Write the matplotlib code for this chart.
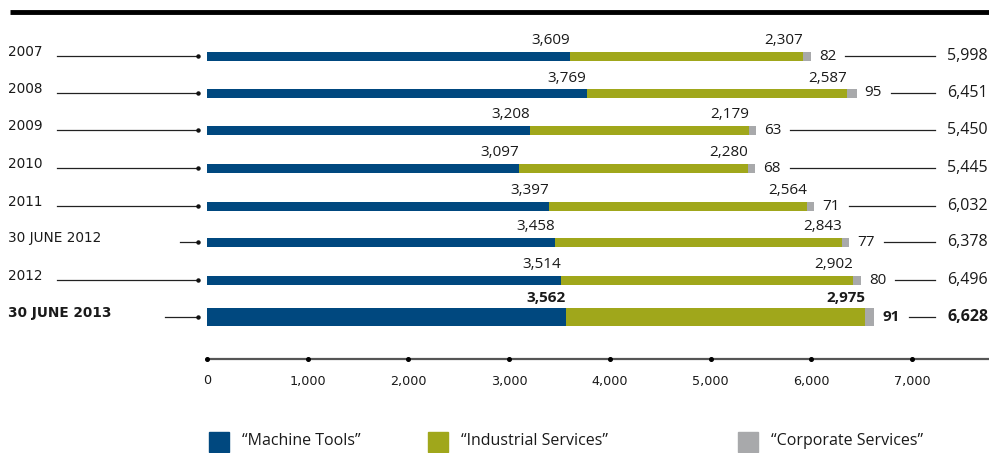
import matplotlib
matplotlib.use("Agg")
import matplotlib.pyplot as plt
from matplotlib.patches import Rectangle

# данные
categories = ["2007", "2008", "2009", "2010", "2011", "30 JUNE 2012", "2012", "30 JUNE 2013"]
machine_tools = [3609, 3769, 3208, 3097, 3397, 3458, 3514, 3562]
industrial = [2307, 2587, 2179, 2280, 2564, 2843, 2902, 2975]
corporate = [82, 95, 63, 68, 71, 77, 80, 91]
totals = [5998, 6451, 5450, 5445, 6032, 6378, 6496, 6628]
series_names = ["\u201cMachine Tools\u201d", "\u201cIndustrial Services\u201d", "\u201cCorporate Services\u201d"]
x_ticks = [0, 1000, 2000, 3000, 4000, 5000, 6000, 7000]

BLUE = "#00487f"
GREEN = "#a0a71b"
GREY = "#a8a9ab"
NUM_FONT = "Open Sans"
LBL_FONT = "DejaVu Sans"

W, H = 989, 453
X0 = 207          # пиксель нуля оси
SCALE = 0.1007    # пикселей на единицу

fig = plt.figure(figsize=(W / 100, H / 100), dpi=100)
ax = fig.add_axes([0, 0, 1, 1])
ax.set_xlim(-X0 / SCALE, (W - X0) / SCALE)
ax.set_ylim(H, 0)
ax.axis("off")


def px(x):
    # пиксель -> координата данных по x
    return (x - X0) / SCALE


# верхняя чёрная линия
ax.plot([px(10), px(W)], [12, 12], color="black", lw=3.5, solid_capstyle="butt")

row_y = [56, 93, 130, 168, 206, 242, 280, 317]
bar_h = [9, 9, 9, 9, 9, 9, 9, 18]
arrow_start = [57, 57, 57, 57, 57, 180, 57, 165]
line_end = 935

fig.canvas.draw()
renderer = fig.canvas.get_renderer()

for i, cat in enumerate(categories):
    y = row_y[i]
    h = bar_h[i]
    bold = i == len(categories) - 1
    fw = "bold" if bold else "normal"

    ax.barh(y, machine_tools[i], height=h, color=BLUE, left=0)
    ax.barh(y, industrial[i], height=h, color=GREEN, left=machine_tools[i])
    ax.barh(y, corporate[i], height=h, color=GREY,
            left=machine_tools[i] + industrial[i])

    # подпись категории и стрелка
    ax.text(px(8), y - 4, cat, ha="left", va="center", fontsize=9.8,
            family=LBL_FONT, fontweight=fw, color="#1a1a1a")
    ax.plot([px(arrow_start[i]), px(198)], [y, y], color="#222222", lw=0.9)
    ax.plot([px(198)], [y], marker="o", ms=2.2, color="#111111")

    # значения над сегментами
    top = y - h / 2 - 3
    ax.text(machine_tools[i], top, f"{machine_tools[i]:,}", ha="right", va="bottom",
            fontsize=11, family=NUM_FONT, fontweight=fw, color="#1a1a1a")
    ax.text(machine_tools[i] + industrial[i], top, f"{industrial[i]:,}", ha="right",
            va="bottom", fontsize=11, family=NUM_FONT, fontweight=fw, color="#1a1a1a")

    # корпоративные и итог
    end = machine_tools[i] + industrial[i] + corporate[i]
    t = ax.text(end + px(X0 + 8), y, f"{corporate[i]:,}", ha="left", va="center",
                fontsize=11, family=NUM_FONT, fontweight=fw, color="#1a1a1a")
    bb = t.get_window_extent(renderer=renderer)
    ax.plot([px(bb.x1 + 9), px(line_end)], [y, y], color="#222222", lw=0.9)
    ax.text(px(988), y, f"{totals[i]:,}", ha="right", va="center",
            fontsize=11.5, family=NUM_FONT, fontweight=fw, color="#1a1a1a")

# ось x
ax.plot([0, px(W)], [359, 359], color="#555555", lw=1.6, solid_capstyle="butt")
for v in x_ticks:
    ax.plot([v], [359], marker="o", ms=2.6, color="black")
    ax.text(v, 381, f"{v:,}", ha="center", va="center", fontsize=9.2,
            family=LBL_FONT, color="#1a1a1a")

# легенда
leg_x = [209, 428, 738]
colors = [BLUE, GREEN, GREY]
for lx, c, name in zip(leg_x, colors, series_names):
    fig.patches.append(Rectangle((lx / W, 1 - 452 / H), 20 / W, 20 / H,
                                 transform=fig.transFigure, color=c))
    fig.text((lx + 33) / W, 1 - 441 / H, name, ha="left", va="center",
             fontsize=11.5, family=NUM_FONT, color="#1a1a1a")

fig.savefig("out.png", dpi=100)
